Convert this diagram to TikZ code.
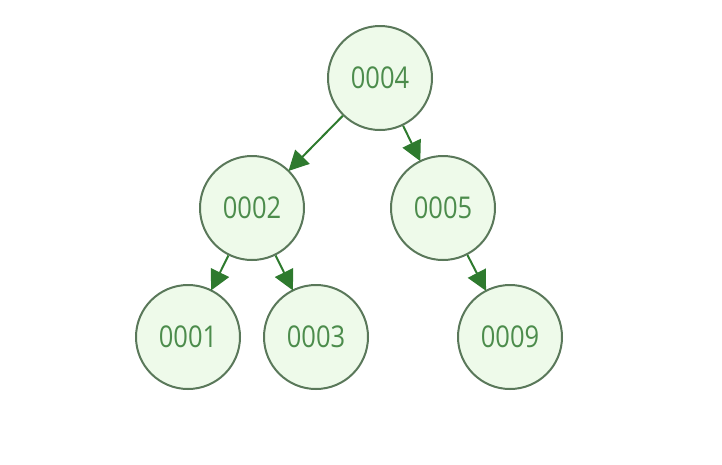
\documentclass[tikz,border=0pt]{standalone}
\usepackage{fontspec}
\setsansfont[FakeStretch=0.85]{Open Sans}
\usetikzlibrary{arrows.meta}
\definecolor{keyline}{HTML}{5A785A}
\definecolor{keyfill}{HTML}{EEFAEA}
\definecolor{keytext}{HTML}{4C8C4C}
\definecolor{linkgreen}{HTML}{2E7A2E}
\tikzset{
  key/.style={circle, draw=keyline, fill=keyfill, line width=2pt, minimum size=104pt,
    inner sep=0pt, text=keytext, font=\sffamily\fontsize{30}{30}\selectfont},
  link/.style={draw=linkgreen, line width=2pt, -{Triangle[length=20pt,width=20pt]}, shorten >=-1pt}
}
\begin{document}
\begin{tikzpicture}[x=1pt, y=-1pt]
\useasboundingbox (0,0) rectangle (722,464);
\node[key] (k4) at (380,78) {0004};
\node[key] (k2) at (252,208) {0002};
\node[key] (k5) at (443,208) {0005};
\node[key] (k1) at (188,337) {0001};
\node[key] (k3) at (316,337) {0003};
\node[key] (k9) at (510,337) {0009};
\draw[link] (k4) -- (k2);
\draw[link] (k4) -- (k5);
\draw[link] (k2) -- (k1);
\draw[link] (k2) -- (k3);
\draw[link] (k5) -- (k9);
\end{tikzpicture}
\end{document}
